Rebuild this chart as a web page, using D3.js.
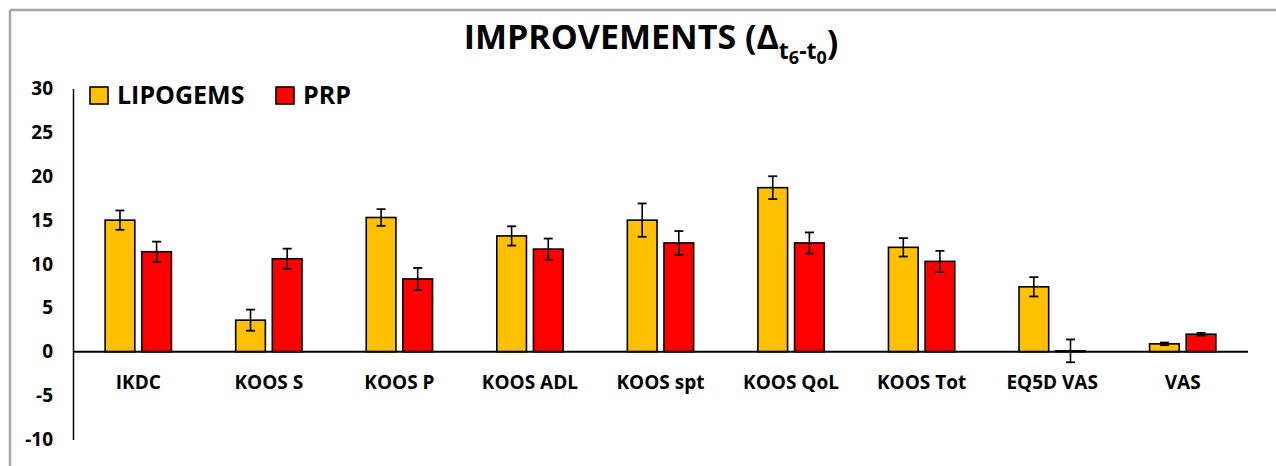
<!DOCTYPE html>
<html>
<head>
<meta charset="utf-8">
<script src="https://cdn.jsdelivr.net/npm/d3@7/dist/d3.min.js"></script>
<style>
  html, body { margin: 0; padding: 0; background: #fff; }
  svg { display: block; }
  text { font-family: "Open Sans", "DejaVu Sans", sans-serif; font-weight: bold; fill: #000; }
</style>
</head>
<body>
<svg id="chart" width="1276" height="466"></svg>
<script>
const categories = ["IKDC", "KOOS S", "KOOS P", "KOOS ADL", "KOOS spt", "KOOS QoL", "KOOS Tot", "EQ5D VAS", "VAS"];
const seriesNames = ["LIPOGEMS", "PRP"];
const lipogemsValues = [15.0, 3.6, 15.3, 13.2, 15.0, 18.7, 11.9, 7.4, 0.9];
const lipogemsErrors = [1.1, 1.2, 0.95, 1.1, 1.9, 1.3, 1.05, 1.1, 0.15];
const prpValues = [11.4, 10.6, 8.3, 11.7, 12.4, 12.4, 10.3, 0.1, 2.0];
const prpErrors = [1.15, 1.15, 1.25, 1.2, 1.35, 1.2, 1.2, 1.3, 0.15];
const yTicks = [-10, -5, 0, 5, 10, 15, 20, 25, 30];
const colors = ["#FFC000", "#FF0000"];

const svg = d3.select("#chart");

// frame (top and left edges)
svg.append("line").attr("x1", 10).attr("y1", 10).attr("x2", 1276).attr("y2", 10)
  .attr("stroke", "#a6a6a6").attr("stroke-width", 2.5);
svg.append("line").attr("x1", 10).attr("y1", 10).attr("x2", 10).attr("y2", 466)
  .attr("stroke", "#a6a6a6").attr("stroke-width", 2.5);

const x0 = d3.scaleBand().domain(categories).range([73, 1248]).paddingInner(0).paddingOuter(0);
const x1 = d3.scaleBand().domain(seriesNames).range([0, x0.bandwidth()]).paddingInner(0.19).paddingOuter(0.877);
const y = d3.scaleLinear().domain([-10, 30]).range([439.5, 88.5]);

const data = categories.map((c, i) => ({
  cat: c,
  vals: [
    { s: seriesNames[0], v: lipogemsValues[i], e: lipogemsErrors[i], c: colors[0] },
    { s: seriesNames[1], v: prpValues[i], e: prpErrors[i], c: colors[1] }
  ]
}));

// y axis
const yAxis = d3.axisLeft(y).tickValues(yTicks).tickSize(0).tickPadding(20).tickFormat(d => String(d));
const gy = svg.append("g").attr("transform", "translate(73,0)").call(yAxis);
gy.select(".domain").attr("stroke", "#000").attr("stroke-width", 1.5);
gy.selectAll(".tick text").attr("font-size", 19).attr("font-family", "Open Sans").attr("font-weight", "bold").attr("fill", "#000");

// bars
const groups = svg.append("g").selectAll("g").data(data).join("g")
  .attr("transform", d => `translate(${x0(d.cat)},0)`);

groups.selectAll("rect").data(d => d.vals).join("rect")
  .attr("x", d => x1(d.s))
  .attr("width", x1.bandwidth())
  .attr("y", d => Math.min(y(d.v), y(0)))
  .attr("height", d => Math.abs(y(d.v) - y(0)))
  .attr("fill", d => d.c)
  .attr("stroke", "#000")
  .attr("stroke-width", 1.6);

// error bars
const eb = groups.selectAll("g.err").data(d => d.vals).join("g").attr("class", "err");
eb.append("line")
  .attr("x1", d => x1(d.s) + x1.bandwidth() / 2)
  .attr("x2", d => x1(d.s) + x1.bandwidth() / 2)
  .attr("y1", d => y(d.v + d.e))
  .attr("y2", d => y(d.v - d.e))
  .attr("stroke", "#000").attr("stroke-width", 1.6);
[1, -1].forEach(sign => {
  eb.append("line")
    .attr("x1", d => x1(d.s) + x1.bandwidth() / 2 - 4.5)
    .attr("x2", d => x1(d.s) + x1.bandwidth() / 2 + 4.5)
    .attr("y1", d => y(d.v + sign * d.e))
    .attr("y2", d => y(d.v + sign * d.e))
    .attr("stroke", "#000").attr("stroke-width", 1.8);
});

// zero line
svg.append("line").attr("x1", 73).attr("x2", 1248).attr("y1", y(0)).attr("y2", y(0))
  .attr("stroke", "#000").attr("stroke-width", 2);

// x category labels
svg.append("g").selectAll("text").data(categories).join("text")
  .attr("x", d => x0(d) + x0.bandwidth() / 2)
  .attr("y", 389)
  .attr("text-anchor", "middle")
  .attr("font-size", 19)
  .text(d => d);

// legend
const legend = svg.append("g");
const legendX = [90, 276];
seriesNames.forEach((s, i) => {
  legend.append("rect").attr("x", legendX[i]).attr("y", 87).attr("width", 18).attr("height", 17)
    .attr("fill", colors[i]).attr("stroke", "#000").attr("stroke-width", 1.6);
  legend.append("text").attr("x", legendX[i] + 27).attr("y", 104).attr("font-size", 25).text(s);
});

// title
const title = svg.append("text").attr("x", 651).attr("y", 49).attr("text-anchor", "middle").attr("font-size", 34);
title.append("tspan").text("IMPROVEMENTS (\u0394");
title.append("tspan").attr("font-size", 23).attr("dy", 10).text("t");
title.append("tspan").attr("font-size", 18).attr("dy", 5).text("6");
title.append("tspan").attr("font-size", 23).attr("dy", -5).text("-t");
title.append("tspan").attr("font-size", 18).attr("dy", 5).text("0");
title.append("tspan").attr("font-size", 34).attr("dy", -10).text(")");
</script>
</body>
</html>
